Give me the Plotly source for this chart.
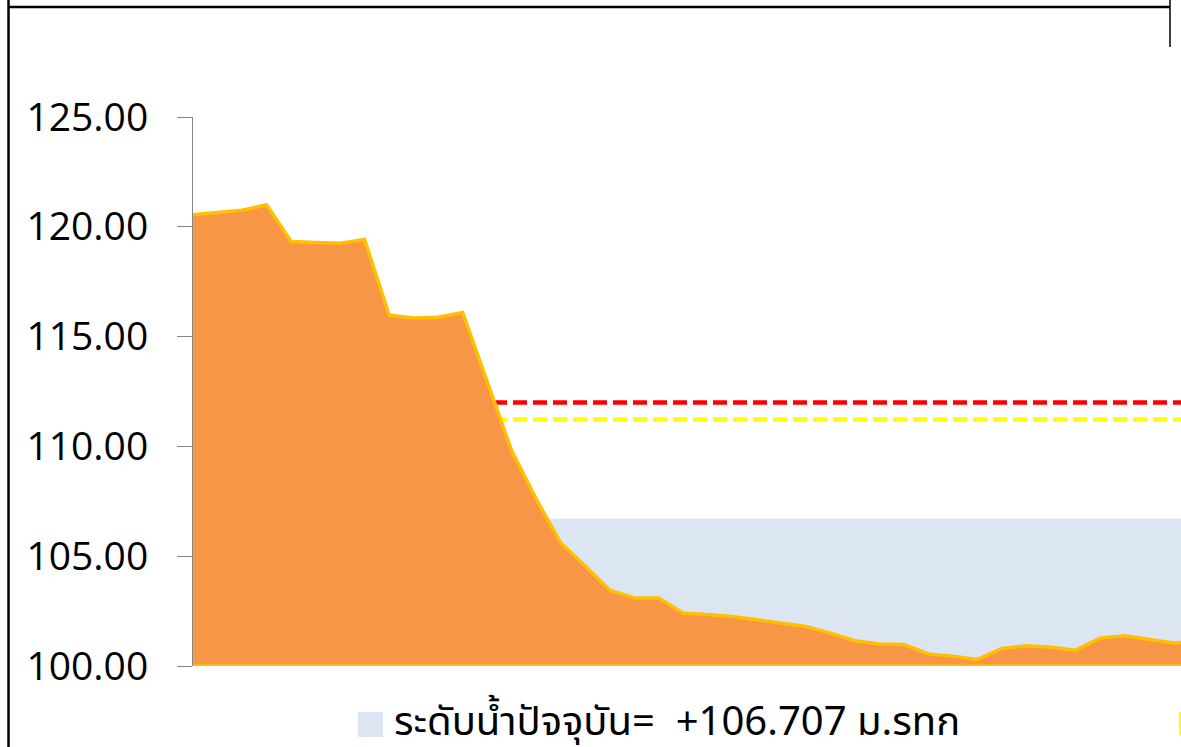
import plotly.graph_objects as go

# ---------------- data ----------------
station_index = list(range(42))
bed_elevation = [
    120.55, 120.65, 120.75, 121.00, 119.33, 119.28, 119.25, 119.42,
    115.98, 115.85, 115.88, 116.10, 113.00, 109.80, 107.60, 105.60,
    104.55, 103.45, 103.10, 103.10, 102.40, 102.35, 102.25, 102.10,
    101.95, 101.80, 101.50, 101.15, 101.00, 100.98, 100.55, 100.45,
    100.30, 100.80, 100.92, 100.85, 100.72, 101.27, 101.38, 101.23,
    101.05, 101.10,
]
water_level = 106.707
red_level = 112.00
yellow_level = 111.23
y_ticks = [100, 105, 110, 115, 120, 125]
y_tick_labels = ["100.00", "105.00", "110.00", "115.00", "120.00", "125.00"]
legend_label = "ระดับน้ำปัจจุบัน=  +106.707 ม.รทก"

# ---------------- styling ----------------
ORANGE = "#F79646"
GOLD = "#FFC000"
WATER = "#DCE6F2"
W, H = 1181, 747
L, R, T, B = 193, 0, 117, 81
y_min, y_max = y_ticks[0], y_ticks[-1]
x_max = 40.3

# crossing of the water level with the left bank
cross_x = station_index[0]
for i in range(len(bed_elevation) - 1):
    a, b = bed_elevation[i], bed_elevation[i + 1]
    if a >= water_level > b:
        cross_x = station_index[i] + (a - water_level) / (a - b)
        break
water_x = [cross_x] + [s for s in station_index if s > cross_x]
water_y = [water_level] * len(water_x)

fig = go.Figure()

# water body
fig.add_trace(go.Scatter(
    x=water_x, y=water_y, mode="lines", fill="tozeroy",
    fillcolor=WATER, line=dict(width=0, color=WATER),
    showlegend=False, hoverinfo="skip",
))

# warning levels
fig.add_trace(go.Scatter(
    x=[station_index[0], station_index[-1]], y=[red_level, red_level],
    mode="lines", line=dict(color="#FF0000", width=4.5, dash="14px,6px"),
    showlegend=False,
))
fig.add_trace(go.Scatter(
    x=[station_index[0], station_index[-1]], y=[yellow_level, yellow_level],
    mode="lines", line=dict(color="#FFFF00", width=4.5, dash="14px,6px"),
    showlegend=False,
))

# river bed cross-section (closed polygon down to the axis floor)
poly_x = station_index + [station_index[-1], station_index[0]]
poly_y = bed_elevation + [y_min, y_min]
fig.add_trace(go.Scatter(
    x=poly_x, y=poly_y, mode="lines", fill="toself",
    fillcolor=ORANGE, line=dict(color=GOLD, width=3.5),
    showlegend=False,
))

def px_x(p):
    return (p - L) / (W - L - R)

def px_y(p):
    return (H - B - p) / (H - T - B)

shapes = [
    # frame lines
    dict(type="line", xref="paper", yref="paper",
         x0=px_x(8.5), x1=px_x(8.5), y0=px_y(0), y1=px_y(747),
         line=dict(color="black", width=2.5)),
    dict(type="line", xref="paper", yref="paper",
         x0=px_x(8.5), x1=px_x(1170), y0=px_y(7), y1=px_y(7),
         line=dict(color="black", width=2.5)),
    dict(type="line", xref="paper", yref="paper",
         x0=px_x(1170), x1=px_x(1170), y0=px_y(0), y1=px_y(47),
         line=dict(color="black", width=1.5)),
    # legend key
    dict(type="rect", xref="paper", yref="paper",
         x0=px_x(358), x1=px_x(383), y0=px_y(737), y1=px_y(712),
         fillcolor=WATER, line=dict(width=0)),
    dict(type="rect", xref="paper", yref="paper",
         x0=px_x(1179), x1=px_x(1182), y0=px_y(735), y1=px_y(712),
         fillcolor="#FFFF00", line=dict(width=0)),
]

annotations = [
    dict(xref="paper", yref="paper", x=px_x(392), y=px_y(723),
         xanchor="left", yanchor="middle", showarrow=False,
         text=legend_label,
         font=dict(family="Noto Sans Thai, Tahoma, Noto Sans, sans-serif",
                   size=40, color="black")),
]

fig.update_layout(
    width=W, height=H,
    margin=dict(l=L, r=R, t=T, b=B, pad=0),
    paper_bgcolor="white", plot_bgcolor="white",
    showlegend=False,
    shapes=shapes, annotations=annotations,
    xaxis=dict(range=[0, x_max], visible=False, showgrid=False, zeroline=False),
    yaxis=dict(
        range=[y_min, y_max], tickvals=y_ticks, ticktext=y_tick_labels,
        showgrid=False, zeroline=False, showline=True,
        linecolor="#868686", linewidth=1,
        ticks="outside", ticklen=15, tickcolor="#868686", tickwidth=1,
        ticklabelstandoff=21,
        tickfont=dict(family="Open Sans, Noto Sans, sans-serif", size=39, color="black"),
    ),
)

fig.write_html(
    "out.html",
    config={"displayModeBar": False},
    post_script="document.body.style.margin='0';document.body.style.overflow='hidden';",
)
